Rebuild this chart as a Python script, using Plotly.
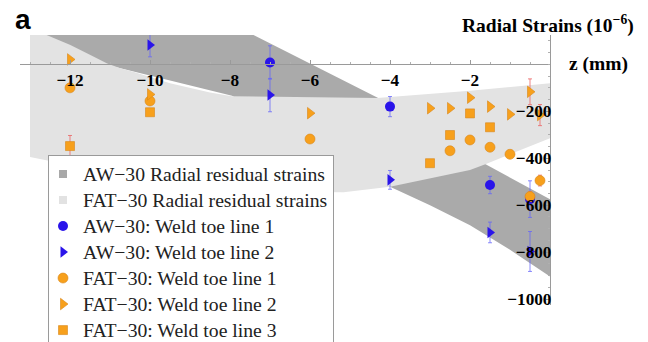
import plotly.graph_objects as go

# ---------------- data ----------------
# AW-30 predicted radial residual strain band (dark)
aw_band_upper_z = [-13, -7.82, -4.32, -1.61, 0]
aw_band_upper_v = [160, 160, -141, -425, -575]
aw_band_lower_z = [-13, -10.4, -7.95, -4.0, -3, -2, -1, 0]
aw_band_lower_v = [78, -31, -134, -521, -600, -685, -790, -904]

# FAT-30 predicted radial residual strain band (light)
fat_band_upper_z = [-13, -12.49, -11.99, -11.49, -11.07, -10.74, -10.4, -9.5, -9, -8.5, -7.95, -6, -4.32, -2, 0]
fat_band_upper_v = [155, 117, 82, 40, 4, -17, -33, -80, -101, -120, -136, -141, -143, -112, -81]
fat_band_lower_z = [-13, -12.5, -11, -9, -7, -5.16, -4, -3, -2, -1.6, -1, -0.5, 0]
fat_band_lower_v = [-395, -412, -465, -515, -543, -545, -521, -487, -450, -424, -385, -350, -315]

# measurements
aw1_z = [-7, -4, -1.5, -0.5]
aw1_v = [8, -180, -514, -574]
aw1_err = [71, 43, 37, 78]

aw2_z = [-10, -7, -4, -1.5, -0.5]
aw2_v = [82, -131, -492, -716, -797]
aw2_err = [50, 71, 40, 44, 85]

fat1_z = [-12, -10, -6, -2.5, -2, -1.5, -1, -0.5, -0.25]
fat1_v = [-100, -156, -318, -368, -322, -353, -383, -563, -495]
fat1_err = [0, 0, 0, 0, 0, 0, 0, 20, 23]

fat2_z = [-12, -10, -6, -3, -2.5, -2, -1.5, -1, -0.5, -0.25]
fat2_v = [21, -128, -208, -187, -187, -142, -180, -213, -117, -216]
fat2_err = [0, 0, 0, 0, 0, 0, 0, 0, 55, 45]

fat3_z = [-12, -10, -3, -2.5, -2, -1.5]
fat3_v = [-348, -204, -421, -301, -209, -268]
fat3_err = [45, 0, 0, 0, 0, 0]

x_ticks = [-12, -10, -8, -6, -4, -2]
y_ticks = [-1000, -800, -600, -400, -200]

legend_names = [
    "AW\u221230 Radial residual strains",
    "FAT\u221230 Radial residual strains",
    "AW\u221230: Weld toe line 1",
    "AW\u221230: Weld toe line 2",
    "FAT\u221230: Weld toe line 1",
    "FAT\u221230: Weld toe line 2",
    "FAT\u221230: Weld toe line 3",
]

# ---------------- layout geometry ----------------
W, H = 648, 342
ML, MR, MT, MB = 20, 98, 35, 37
PW, PH = W - ML - MR, H - MT - MB
X_RANGE = [-13.25, 0]
Y_RANGE = [-1025, 125]


def paper(px, py):
    return (px - ML) / PW, 1 - (py - MT) / PH


def lname(s):
    return "<span style='font-size:19.7px'>" + s + "</span>"


DARK = "#aaaaaa"
LIGHT = "#e3e3e3"
BLUE = "#2a14ea"
ORANGE = "#f7a01c"
ORANGE_EDGE = "#d9861a"
SERIF = "Liberation Serif"

fig = go.Figure()

# bands
fig.add_trace(go.Scatter(
    x=aw_band_upper_z + aw_band_lower_z[::-1],
    y=aw_band_upper_v + aw_band_lower_v[::-1],
    fill="toself", fillcolor=DARK, mode="lines", line=dict(width=0),
    showlegend=False, hoverinfo="skip"))
fig.add_trace(go.Scatter(
    x=fat_band_upper_z + fat_band_lower_z[::-1],
    y=fat_band_upper_v + fat_band_lower_v[::-1],
    fill="toself", fillcolor=LIGHT, mode="lines", line=dict(width=0),
    showlegend=False, hoverinfo="skip"))

# legend swatches for bands
fig.add_trace(go.Scatter(x=[None], y=[None], mode="markers",
                         marker=dict(symbol="square", size=8, color="#a8a8a8"),
                         name=lname(legend_names[0])))
fig.add_trace(go.Scatter(x=[None], y=[None], mode="markers",
                         marker=dict(symbol="square", size=8, color="#e2e2e2"),
                         name=lname(legend_names[1])))

blue_err = dict(type="data", color="rgba(100,100,250,0.75)", thickness=1, width=2)
red_err = dict(type="data", color="rgba(235,100,100,0.8)", thickness=1, width=2)

fig.add_trace(go.Scatter(x=aw1_z, y=aw1_v, mode="markers",
                         error_y=dict(array=aw1_err, **blue_err),
                         marker=dict(symbol="circle", size=10, color=BLUE),
                         name=lname(legend_names[2])))
fig.add_trace(go.Scatter(x=aw2_z, y=aw2_v, mode="markers",
                         error_y=dict(array=aw2_err, **blue_err),
                         marker=dict(symbol="triangle-right", size=10, color=BLUE),
                         name=lname(legend_names[3])))
fig.add_trace(go.Scatter(x=fat1_z, y=fat1_v, mode="markers",
                         error_y=dict(array=fat1_err, **red_err),
                         marker=dict(symbol="circle", size=10, color=ORANGE,
                                     line=dict(width=0.6, color=ORANGE_EDGE)),
                         name=lname(legend_names[4])))
fig.add_trace(go.Scatter(x=fat2_z, y=fat2_v, mode="markers",
                         error_y=dict(array=fat2_err, **red_err),
                         marker=dict(symbol="triangle-right", size=10, color=ORANGE,
                                     line=dict(width=0.6, color=ORANGE_EDGE)),
                         name=lname(legend_names[5])))
fig.add_trace(go.Scatter(x=fat3_z, y=fat3_v, mode="markers",
                         error_y=dict(array=fat3_err, **red_err),
                         marker=dict(symbol="square", size=9, color=ORANGE,
                                     line=dict(width=0.6, color=ORANGE_EDGE)),
                         name=lname(legend_names[6])))

tickfont = dict(family=SERIF, size=17.2, color="black", weight="bold")
x_pos = (0 - Y_RANGE[0]) / (Y_RANGE[1] - Y_RANGE[0])

lx, ly = paper(48, 155)
fig.update_layout(
    width=W, height=H,
    margin=dict(l=ML, r=MR, t=MT, b=MB, autoexpand=False),
    paper_bgcolor="white", plot_bgcolor="white",
    xaxis=dict(range=X_RANGE, anchor="free", position=x_pos, side="bottom",
               showgrid=False, zeroline=False, showline=True, linecolor="#9a9a9a",
               linewidth=1, tickvals=x_ticks, ticks="inside", ticklen=4,
               tickcolor="#9a9a9a", tickfont=tickfont,
               minor=dict(dtick=0.5, tick0=0, ticks="inside", ticklen=2, tickcolor="#b0b0b0")),
    yaxis=dict(range=Y_RANGE, side="right", anchor="x",
               showgrid=False, zeroline=False, showline=True, linecolor="#9a9a9a",
               linewidth=1, tickvals=y_ticks, ticks="inside", ticklen=4,
               tickcolor="#9a9a9a", tickfont=tickfont, ticklabelposition="inside",
               ticklabelstandoff=-5, ticklabeloverflow="allow",
               minor=dict(dtick=50, tick0=0, ticks="inside", ticklen=2, tickcolor="#b0b0b0")),
    legend=dict(x=lx, y=ly, xanchor="left", yanchor="top",
                bgcolor="white", bordercolor="#9a9a9a", borderwidth=1,
                font=dict(family=SERIF, size=17.7, color="#222222"),
                tracegroupgap=0, indentation=-6),
    showlegend=True,
)

ax, ay = paper(548, 24)
fig.add_annotation(x=ax, y=ay, xref="paper", yref="paper", showarrow=False,
                   xanchor="center", yanchor="middle",
                   text="Radial Strains (10<sup>\u22126</sup>)",
                   font=dict(family=SERIF, size=19.5, color="black", weight="bold"))
zx, zy = paper(567, 64)
fig.add_annotation(x=zx, y=zy, xref="paper", yref="paper", showarrow=False,
                   xanchor="left", yanchor="middle", text="z (mm)",
                   font=dict(family=SERIF, size=19.5, color="black", weight="bold"))
axa, aya = paper(23, 20)
fig.add_annotation(x=axa, y=aya, xref="paper", yref="paper", showarrow=False,
                   xanchor="center", yanchor="middle", text="a",
                   font=dict(family="Liberation Sans", size=28, color="black", weight="bold"))

bx0, by0 = paper(49.5, 159)
bx1, by1 = paper(49.5, 345)
fig.add_shape(type="line", xref="paper", yref="paper", x0=bx0, x1=bx1, y0=by0, y1=by1,
              line=dict(color="black", width=3), layer="above")

fig.write_html("out.html", config={"displayModeBar": False},
               post_script="document.body.style.margin='0px';")
